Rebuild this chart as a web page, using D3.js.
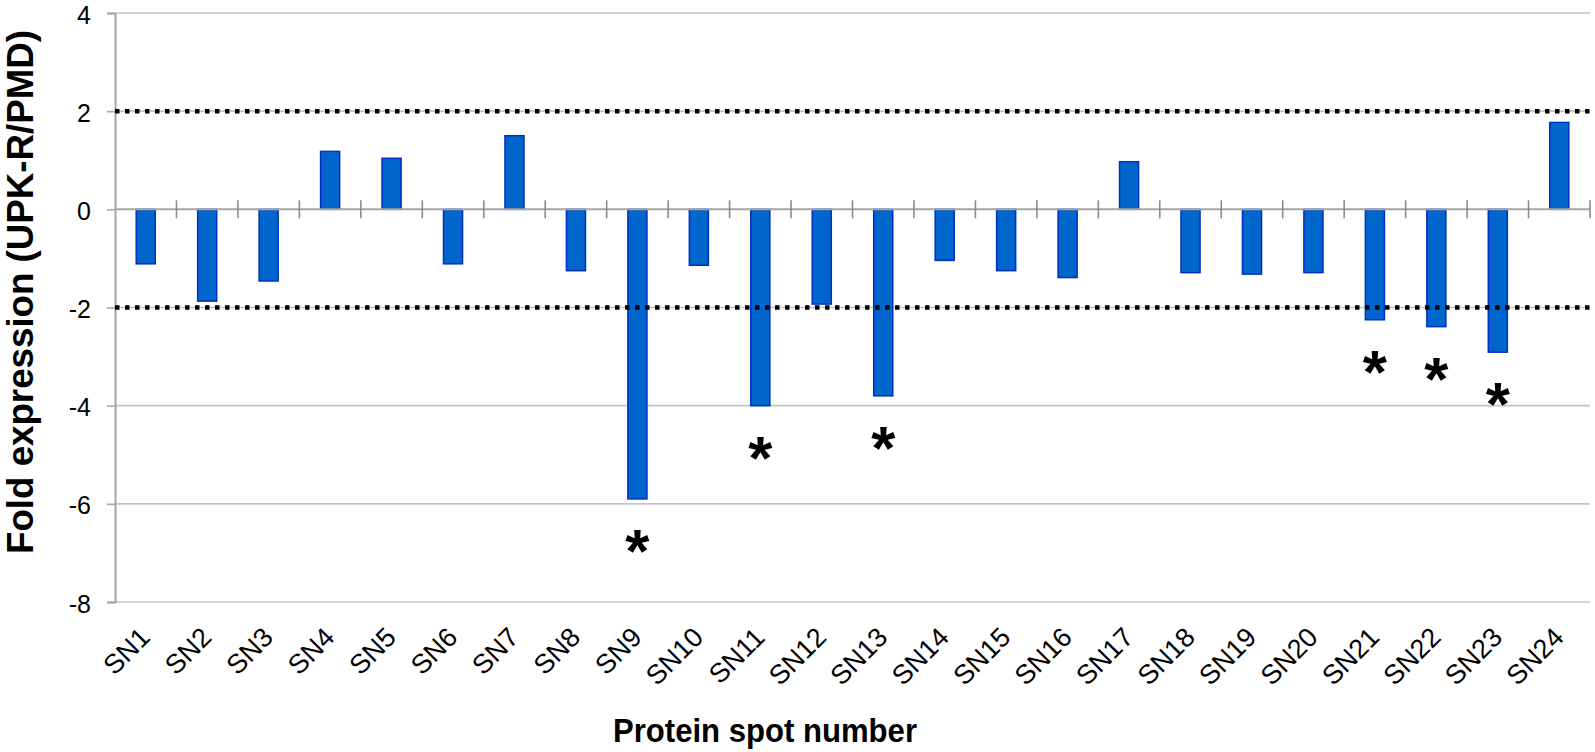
<!DOCTYPE html>
<html>
<head>
<meta charset="utf-8">
<script src="https://cdn.jsdelivr.net/npm/d3@7"></script>
<style>
  html, body { margin: 0; padding: 0; background: #fff; }
  svg { display: block; font-family: "Liberation Sans", Arial, sans-serif; }
</style>
</head>
<body>
<svg id="chart" width="1595" height="752"></svg>
<script>
const categories = ["SN1","SN2","SN3","SN4","SN5","SN6","SN7","SN8","SN9","SN10","SN11","SN12",
  "SN13","SN14","SN15","SN16","SN17","SN18","SN19","SN20","SN21","SN22","SN23","SN24"];
const foldValues = [-1.11,-1.87,-1.46,1.18,1.04,-1.11,1.50,-1.25,-5.90,-1.14,-4.00,-1.93,
  -3.80,-1.04,-1.25,-1.39,0.97,-1.29,-1.32,-1.29,-2.25,-2.39,-2.91,1.77];
const significant = ["SN9","SN11","SN13","SN21","SN22","SN23"];
const yTicks = [-8,-6,-4,-2,0,2,4];
const thresholds = [2,-2];
const yDomain = [-8,4];

const svg = d3.select("#chart");
const plotL = 115, plotR = 1590, plotT = 13, plotB = 602;

const x = d3.scaleBand().domain(categories).range([plotL, plotR]).paddingInner(0).paddingOuter(0);
const y = d3.scaleLinear().domain(yDomain).range([plotB, plotT]);
const barW = x.bandwidth() * 0.31;

// horizontal gridlines
svg.append("g").selectAll("line").data(yTicks.filter(d => d !== 0))
  .join("line")
  .attr("x1", plotL).attr("x2", plotR)
  .attr("y1", d => y(d)).attr("y2", d => y(d))
  .attr("stroke", "#c4c4c4").attr("stroke-width", 1.6);

// y axis
const yAxis = d3.axisLeft(y).tickValues(yTicks).tickSize(8).tickPadding(16).tickFormat(d => String(d));
const gy = svg.append("g").attr("transform", `translate(${plotL},0)`).call(yAxis);
gy.select(".domain").attr("stroke", "#a6a6a6").attr("stroke-width", 2);
gy.selectAll(".tick line").attr("stroke", "#a6a6a6").attr("stroke-width", 1.6);
gy.selectAll(".tick text").attr("font-size", 25).attr("fill", "#000").attr("dy", "0.4em")
  .attr("font-family", "'Liberation Sans', Arial, sans-serif");

// bars
svg.append("g").selectAll("rect").data(categories)
  .join("rect")
  .attr("x", (d) => x(d) + x.bandwidth()/2 - barW/2)
  .attr("width", barW)
  .attr("y", (d,i) => y(Math.max(0, foldValues[i])))
  .attr("height", (d,i) => Math.abs(y(foldValues[i]) - y(0)))
  .attr("fill", "#0066cc")
  .attr("stroke", "#0030c0")
  .attr("stroke-width", 1.5);

// zero axis with category boundary ticks
svg.append("line")
  .attr("x1", plotL).attr("x2", plotR)
  .attr("y1", y(0)).attr("y2", y(0))
  .attr("stroke", "#a6a6a6").attr("stroke-width", 2);
svg.append("g").selectAll("line").data(categories.slice(1).concat(["__end"]))
  .join("line")
  .attr("x1", d => d === "__end" ? plotR : x(d))
  .attr("x2", d => d === "__end" ? plotR : x(d))
  .attr("y1", y(0) - 9).attr("y2", y(0) + 9)
  .attr("stroke", "#8c8c8c").attr("stroke-width", 1.6);

// threshold dotted lines
svg.append("g").selectAll("line").data(thresholds)
  .join("line")
  .attr("x1", plotL).attr("x2", plotR)
  .attr("y1", d => y(d)).attr("y2", d => y(d))
  .attr("stroke", "#000").attr("stroke-width", 4.5)
  .attr("stroke-dasharray", "4.5 5.5");

// x labels
svg.append("g").selectAll("text").data(categories)
  .join("text")
  .attr("transform", d => `translate(${x(d) + x.bandwidth()/2 + 6},${639}) rotate(-45)`)
  .attr("text-anchor", "end")
  .attr("font-size", 27)
  .attr("fill", "#000")
  .text(d => d);

// asterisks
svg.append("g").selectAll("text").data(categories.filter(c => significant.includes(c)))
  .join("text")
  .attr("x", d => x(d) + x.bandwidth()/2)
  .attr("y", d => y(foldValues[categories.indexOf(d)]) + 40 + 33)
  .attr("text-anchor", "middle")
  .attr("font-size", 62)
  .attr("font-weight", "bold")
  .attr("fill", "#000")
  .text("*");

// axis titles
svg.append("text")
  .attr("x", 765).attr("y", 742)
  .attr("text-anchor", "middle")
  .attr("font-size", 33).attr("font-weight", "bold")
  .attr("textLength", 304).attr("lengthAdjust", "spacingAndGlyphs")
  .text("Protein spot number");

svg.append("text")
  .attr("transform", "translate(33,292) rotate(-90)")
  .attr("text-anchor", "middle")
  .attr("font-size", 36).attr("font-weight", "bold")
  .attr("textLength", 524).attr("lengthAdjust", "spacingAndGlyphs")
  .text("Fold expression (UPK-R/PMD)");
</script>
</body>
</html>
